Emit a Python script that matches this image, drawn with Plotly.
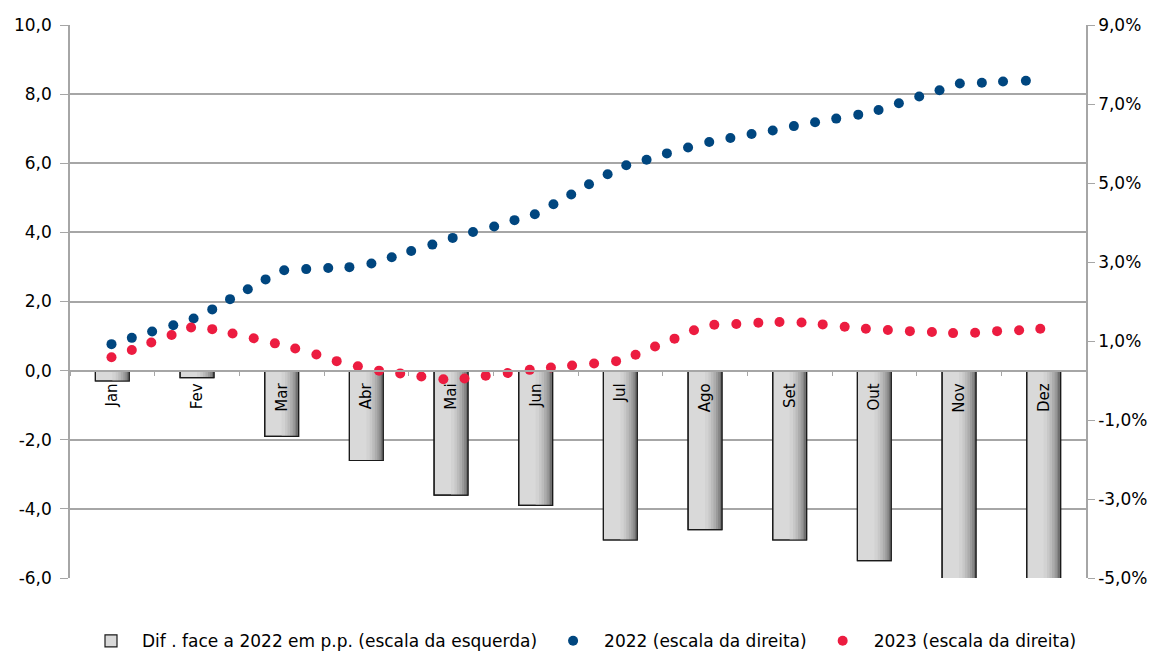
import plotly.graph_objects as go

months = ["Jan", "Fev", "Mar", "Abr", "Mai", "Jun", "Jul", "Ago", "Set", "Out", "Nov", "Dez"]
dif_pp = [-0.3, -0.2, -1.9, -2.6, -3.6, -3.9, -4.9, -4.6, -4.9, -5.5, -6.3, -6.3]

# weekly observations, x in months (Jan = 0)
x_2022 = [-0.01, 0.23, 0.47, 0.72, 0.96, 1.18, 1.39, 1.60, 1.81, 2.03, 2.29, 2.55, 2.80, 3.06,
          3.30, 3.53, 3.78, 4.02, 4.26, 4.51, 4.75, 4.99, 5.21, 5.42, 5.63, 5.85, 6.07, 6.31,
          6.55, 6.80, 7.05, 7.30, 7.55, 7.80, 8.05, 8.30, 8.55, 8.81, 9.05, 9.29, 9.53, 9.77,
          10.01, 10.27, 10.52, 10.79]
v_2022 = [0.92, 1.08, 1.24, 1.40, 1.57, 1.80, 2.06, 2.31, 2.56, 2.79, 2.82, 2.85, 2.87, 2.96,
          3.12, 3.28, 3.44, 3.61, 3.76, 3.90, 4.06, 4.21, 4.46, 4.71, 4.97, 5.22, 5.45, 5.59,
          5.75, 5.90, 6.04, 6.14, 6.24, 6.33, 6.44, 6.54, 6.63, 6.73, 6.85, 7.02, 7.19, 7.35,
          7.52, 7.54, 7.57, 7.59]

x_2023 = [-0.01, 0.23, 0.46, 0.70, 0.93, 1.18, 1.42, 1.67, 1.92, 2.16, 2.41, 2.65, 2.90, 3.15,
          3.40, 3.65, 3.91, 4.16, 4.41, 4.67, 4.93, 5.18, 5.43, 5.69, 5.95, 6.18, 6.41, 6.64,
          6.87, 7.11, 7.37, 7.63, 7.88, 8.14, 8.39, 8.65, 8.90, 9.16, 9.42, 9.68, 9.93, 10.19,
          10.45, 10.71, 10.96]
v_2023 = [0.59, 0.77, 0.96, 1.15, 1.34, 1.30, 1.19, 1.07, 0.94, 0.81, 0.66, 0.49, 0.36, 0.25,
          0.18, 0.10, 0.03, 0.05, 0.12, 0.19, 0.27, 0.33, 0.38, 0.43, 0.49, 0.65, 0.86, 1.06,
          1.27, 1.41, 1.43, 1.46, 1.48, 1.47, 1.42, 1.36, 1.31, 1.28, 1.25, 1.23, 1.20, 1.21,
          1.25, 1.27, 1.31]

left_ticks = [-6, -4, -2, 0, 2, 4, 6, 8, 10]
left_labels = ["-6,0", "-4,0", "-2,0", "0,0", "2,0", "4,0", "6,0", "8,0", "10,0"]
right_ticks = [-5, -3, -1, 1, 3, 5, 7, 9]
right_labels = ["-5,0%", "-3,0%", "-1,0%", "1,0%", "3,0%", "5,0%", "7,0%", "9,0%"]

GRID = "#a6a6a6"
FONT = "DejaVu Sans"

fig = go.Figure()

# base bar (legend item)
fig.add_trace(go.Bar(
    x=months, y=dif_pp, name="Dif . face a 2022 em p.p. (escala da esquerda)",
    width=0.4, offset=-0.2,
    marker=dict(color="#d9d9d9", line=dict(color="#1a1a1a", width=1.2)),
))
# shading strips to imitate the gradient on the right side of each bar
shades = [(0.0, 0.2, "#d2d2d2"), (0.04, 0.16, "#c8c8c8"), (0.07, 0.13, "#bbbbbb"),
          (0.10, 0.10, "#acacac"), (0.13, 0.07, "#9a9a9a"), (0.155, 0.045, "#868686"),
          (0.18, 0.02, "#707070")]
for off, w, c in shades:
    fig.add_trace(go.Bar(x=months, y=dif_pp, width=w, offset=off, showlegend=False,
                         marker=dict(color=c, line=dict(width=0)), hoverinfo="skip"))
# outline on top
fig.add_trace(go.Bar(x=months, y=dif_pp, width=0.4, offset=-0.2, showlegend=False,
                     marker=dict(color="rgba(0,0,0,0)", line=dict(color="#1a1a1a", width=1.2)),
                     hoverinfo="skip"))

fig.add_trace(go.Scatter(
    x=x_2022, y=v_2022, mode="markers", name="2022 (escala da direita)",
    xaxis="x2", yaxis="y2",
    marker=dict(color="#00467f", size=10, line=dict(width=0)),
))
fig.add_trace(go.Scatter(
    x=x_2023, y=v_2023, mode="markers", name="2023 (escala da direita)",
    xaxis="x2", yaxis="y2",
    marker=dict(color="#ec1c40", size=10, line=dict(width=0)),
))

fig.update_layout(
    width=1162, height=653,
    margin=dict(l=70, r=76, t=25, b=75, autoexpand=False),
    paper_bgcolor="white", plot_bgcolor="white",
    separators=",.",
    barmode="overlay",
    font=dict(family=FONT, size=16, color="#000000"),
    showlegend=True,
    legend=dict(orientation="h", x=0.5, xref="container", xanchor="center",
                y=0.018, yref="container", yanchor="middle",
                font=dict(family=FONT, size=17), itemwidth=52, tracegroupgap=0),
    xaxis=dict(
        type="category", range=[-0.5, 11.5], anchor="free", position=0.375,
        showline=True, linecolor=GRID, linewidth=1.5,
        ticks="outside", tickson="boundaries", ticklen=5, tickcolor=GRID,
        tickangle=-90, tickfont=dict(family=FONT, size=15), ticklabelstandoff=6,
        showgrid=False, zeroline=False, automargin=False,
    ),
    yaxis=dict(
        range=[-6, 10], tickvals=left_ticks, ticktext=left_labels,
        showgrid=True, gridcolor=GRID, gridwidth=1.5,
        showline=True, linecolor=GRID, linewidth=1.5,
        ticks="outside", ticklen=8, tickcolor=GRID, ticklabelstandoff=5,
        zeroline=False, tickfont=dict(family=FONT, size=17), automargin=False,
    ),
    xaxis2=dict(overlaying="x", range=[-0.5, 11.5], visible=False, anchor="y2"),
    yaxis2=dict(
        overlaying="y", side="right", range=[-5, 9],
        tickvals=right_ticks, ticktext=right_labels,
        showgrid=False, zeroline=False,
        showline=True, linecolor=GRID, linewidth=1.5,
        ticks="outside", ticklen=7, tickcolor=GRID,
        tickfont=dict(family=FONT, size=17), automargin=False,
    ),
)

fig.write_html("out.html", config={"displayModeBar": False},
               post_script="document.body.style.margin='0';")
